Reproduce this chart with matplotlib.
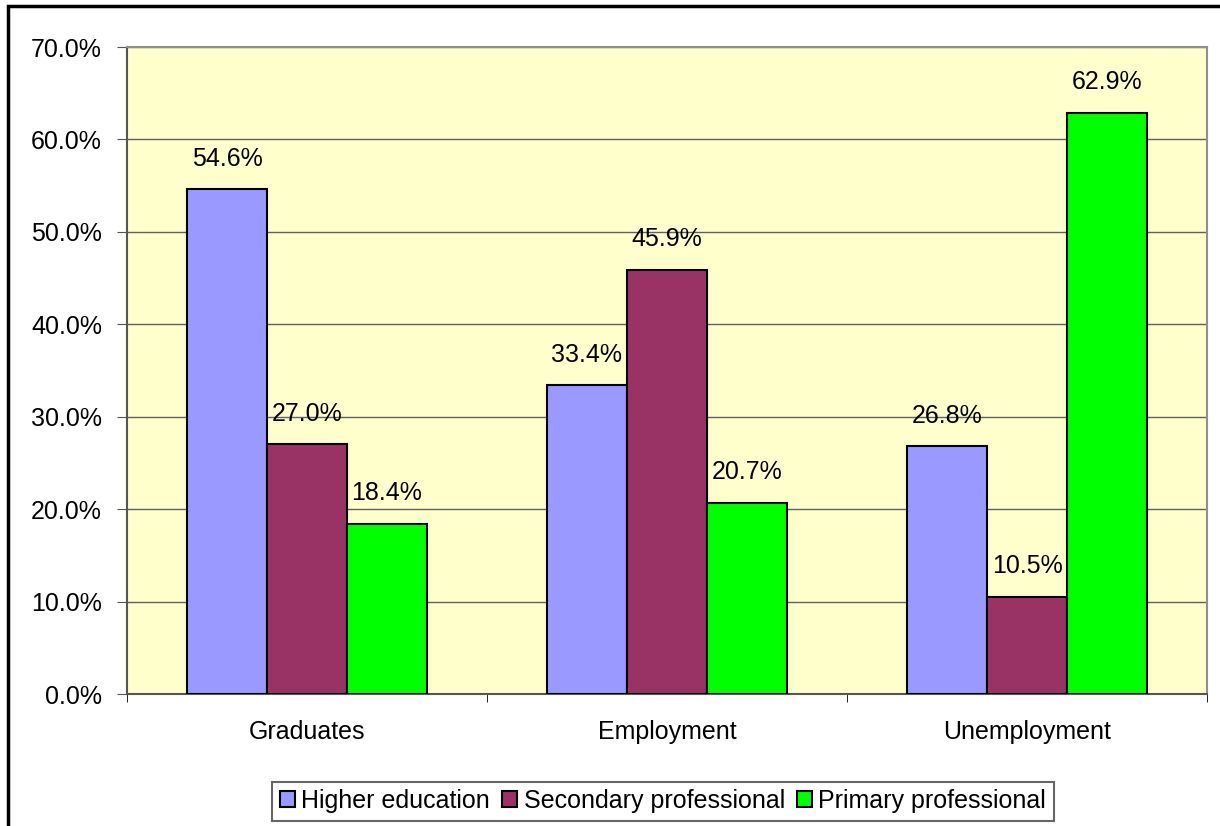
import numpy as np
import matplotlib.pyplot as plt
import matplotlib.patches as mpatches

plt.rcParams['font.family'] = ['Liberation Sans', 'DejaVu Sans']

categories = ['Graduates', 'Employment', 'Unemployment']
series_names = ['Higher education', 'Secondary professional', 'Primary professional']
higher = [54.6, 33.4, 26.8]
secondary = [27.0, 45.9, 10.5]
primary = [18.4, 20.7, 62.9]
colors = ['#9999FF', '#993366', '#00FF00']
yticks = [0, 10, 20, 30, 40, 50, 60, 70]

fig = plt.figure(figsize=(12.2, 8.26), dpi=100)
ax = fig.add_axes([127/1220, 1-694/826, 1080/1220, 647/826])
ax.set_facecolor('#FFFFCC')

x = np.arange(len(categories))
w = 80/360
for i, (vals, name, c) in enumerate(zip([higher, secondary, primary], series_names, colors)):
    bars = ax.bar(x + (i-1)*w, vals, w, color=c, edgecolor='black', linewidth=1.5,
                  label=name, zorder=3)
    for b, v in zip(bars, vals):
        ax.annotate('%.1f%%' % v, (b.get_x() + b.get_width()/2, v),
                    xytext=(0, 22), textcoords='offset points',
                    ha='center', va='center', fontsize=18)

ax.set_xlim(-0.5, 2.5)
ax.set_ylim(0, 70)
ax.set_yticks(yticks)
ax.set_yticklabels(['%.1f%%' % t for t in yticks], fontsize=18)
ax.set_xticks(x)
ax.set_xticklabels(categories, fontsize=18)
ax.set_xticks(np.arange(-0.5, 3, 1), minor=True)
ax.tick_params(axis='x', which='major', length=0, pad=19)
ax.tick_params(axis='x', which='minor', length=6, color='black')
ax.tick_params(axis='y', length=7, pad=11, color='#555555')
ax.grid(axis='y', color='#606060', linewidth=1, zorder=0)
ax.set_axisbelow(True)
for s in ['top', 'right']:
    ax.spines[s].set_color('#909090')
    ax.spines[s].set_linewidth(1.5)
ax.spines['left'].set_color('#555555')
ax.spines['bottom'].set_color('#555555')
ax.spines['left'].set_linewidth(1.5)
ax.spines['bottom'].set_linewidth(1.5)

leg = fig.legend(loc='center', bbox_to_anchor=(663/1220, 1-801/826), ncol=3,
                 fontsize=18, frameon=True, fancybox=False, edgecolor='#404040',
                 handlelength=0.6, handleheight=0.6, handletextpad=0.25,
                 columnspacing=0.5, borderpad=0.3, borderaxespad=0)
leg.get_frame().set_linewidth(1.5)

# outer chart border
fig.patches.append(mpatches.Rectangle((8/1220, -0.1), 1.2, 1.1 - 5.5/826,
                                      transform=fig.transFigure, fill=False,
                                      edgecolor='black', linewidth=2.5))

fig.savefig('out.png', dpi=100)
